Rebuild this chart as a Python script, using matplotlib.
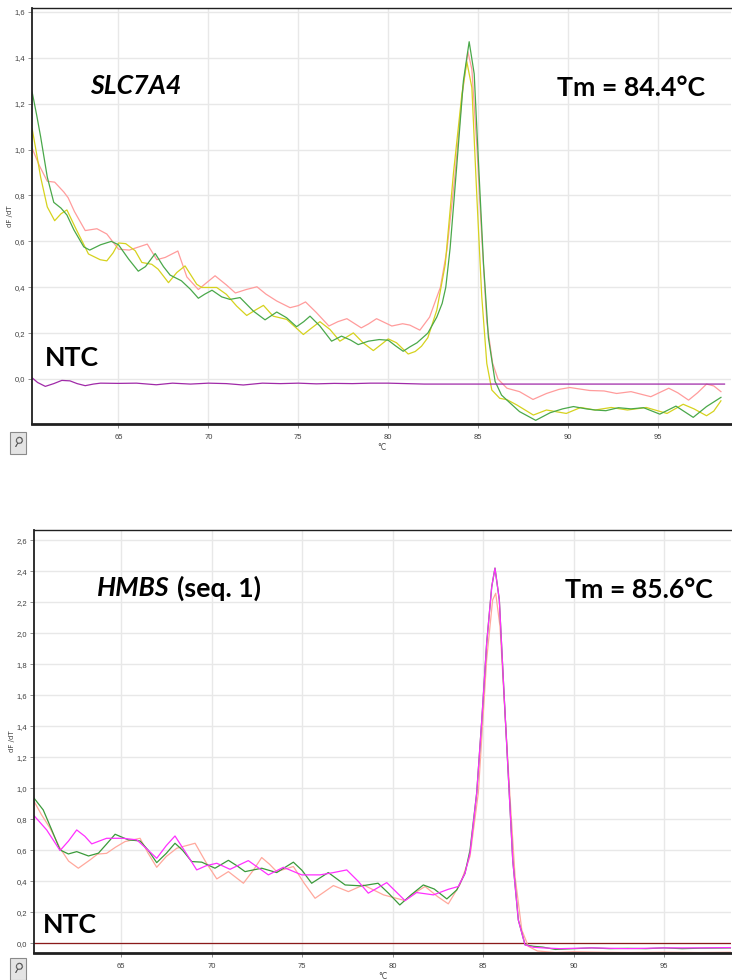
import matplotlib
matplotlib.use("Agg")
import matplotlib.pyplot as plt
from matplotlib.ticker import FuncFormatter
from matplotlib.patches import Rectangle

# SLC7A4 melt curves (temperature, -dF/dT)
slc_pink_t = [60.2, 60.6, 61.04, 61.45, 61.96, 62.2, 62.55, 63.15, 63.8, 64.35, 65.0, 65.6, 66.1, 66.6,
              67.13, 67.6, 68.3, 68.8, 69.44, 69.9, 70.37, 71.0, 71.5, 72.1, 72.7, 73.2, 73.8, 74.54,
              75.0, 75.4, 76.0, 76.7, 77.2, 77.7, 78.5, 78.9, 79.35, 80.2, 80.8, 81.2, 81.76, 82.3,
              82.9, 83.26, 83.7, 84.1, 84.43, 84.65, 84.93, 85.2, 85.48, 85.8, 86.1, 86.6, 87.3, 88.05,
              88.8, 89.5, 90.1, 91.2, 92.0, 92.7, 93.5, 94.6, 95.6, 96.1, 96.7, 97.2, 97.7, 98.1, 98.5]
slc_pink_v = [1.005, 0.93, 0.862, 0.858, 0.815, 0.79, 0.73, 0.647, 0.655, 0.632, 0.566, 0.562, 0.575, 0.588,
              0.52, 0.53, 0.558, 0.445, 0.39, 0.42, 0.45, 0.41, 0.375, 0.39, 0.402, 0.37, 0.34, 0.311,
              0.32, 0.336, 0.29, 0.231, 0.25, 0.263, 0.223, 0.24, 0.263, 0.231, 0.241, 0.235, 0.213, 0.27,
              0.40, 0.56, 0.88, 1.23, 1.426, 1.35, 1.01, 0.62, 0.25, 0.07, 0.0, -0.04, -0.055, -0.089,
              -0.063, -0.045, -0.037, -0.05, -0.052, -0.063, -0.055, -0.077, -0.04, -0.06, -0.092, -0.06, -0.022, -0.03, -0.055]

slc_green_t = [60.2, 60.45, 60.67, 61.04, 61.4, 61.8, 62.13, 62.52, 63.07, 63.4, 64.0, 64.6, 65.0, 65.56,
               66.1, 66.5, 67.04, 67.5, 67.87, 68.5, 69.0, 69.44, 69.8, 70.2, 70.74, 71.2, 71.76, 72.5,
               73.15, 73.8, 74.35, 74.9, 75.3, 75.65, 76.2, 76.85, 77.4, 77.9, 78.33, 78.9, 79.5, 80.0,
               80.4, 80.83, 81.2, 81.6, 82.2, 82.7, 83.0, 83.2, 83.44, 83.8, 84.18, 84.5, 84.78, 85.02,
               85.3, 85.57, 85.94, 86.3, 86.6, 87.3, 88.2, 89.0, 89.7, 90.3, 91.0, 91.5, 92.1, 92.8,
               93.5, 94.2, 95.1, 96.0, 96.96, 97.7, 98.5]
slc_green_v = [1.25, 1.15, 1.056, 0.88, 0.77, 0.745, 0.715, 0.65, 0.576, 0.562, 0.585, 0.6, 0.585, 0.523,
               0.47, 0.49, 0.547, 0.49, 0.453, 0.428, 0.391, 0.352, 0.37, 0.387, 0.358, 0.347, 0.355, 0.296,
               0.258, 0.292, 0.267, 0.228, 0.25, 0.274, 0.231, 0.165, 0.187, 0.17, 0.15, 0.165, 0.172, 0.169,
               0.145, 0.121, 0.14, 0.158, 0.2, 0.27, 0.33, 0.40, 0.57, 0.92, 1.30, 1.47, 1.33, 0.94,
               0.50, 0.18, -0.01, -0.07, -0.092, -0.142, -0.18, -0.147, -0.13, -0.12, -0.13, -0.135, -0.138, -0.125,
               -0.13, -0.125, -0.153, -0.118, -0.167, -0.12, -0.08]

slc_yellow_t = [60.2, 60.45, 60.67, 61.04, 61.45, 61.8, 62.13, 62.6, 63.33, 63.98, 64.35, 64.7, 65.0, 65.4,
                65.93, 66.3, 66.85, 67.2, 67.78, 68.24, 68.7, 69.35, 69.63, 70.46, 71.0, 71.57, 72.13, 72.6,
                73.06, 73.6, 74.35, 74.72, 75.28, 75.7, 76.2, 76.76, 77.31, 78.06, 78.6, 79.17, 79.6, 80.0,
                80.46, 81.11, 81.5, 81.85, 82.2, 82.7, 83.17, 83.63, 84.1, 84.37, 84.65, 84.93, 85.2, 85.48,
                85.76, 86.2, 86.6, 87.15, 88.07, 88.8, 89.9, 90.7, 91.5, 92.4, 93.3, 94.35, 95.5, 96.4,
                97.0, 97.7, 98.1, 98.5]
slc_yellow_v = [1.09, 0.98, 0.88, 0.75, 0.69, 0.72, 0.737, 0.66, 0.545, 0.52, 0.515, 0.55, 0.593, 0.59,
                0.559, 0.508, 0.50, 0.479, 0.42, 0.464, 0.493, 0.413, 0.399, 0.399, 0.369, 0.318, 0.277, 0.30,
                0.321, 0.274, 0.26, 0.234, 0.194, 0.22, 0.25, 0.216, 0.165, 0.201, 0.158, 0.124, 0.15, 0.175,
                0.158, 0.109, 0.12, 0.143, 0.18, 0.30, 0.50, 0.90, 1.245, 1.383, 1.27, 0.79, 0.36, 0.068,
                -0.048, -0.084, -0.09, -0.113, -0.157, -0.135, -0.15, -0.124, -0.135, -0.124, -0.135, -0.124, -0.15, -0.11,
                -0.13, -0.16, -0.14, -0.095]

slc_ntc_t = [60.2, 60.5, 60.93, 61.4, 61.85, 62.3, 62.7, 63.15, 63.6, 64.0, 65.0, 66.0, 67.1, 68.0,
             69.0, 70.0, 71.0, 71.94, 73.0, 74.0, 75.0, 76.0, 77.0, 78.0, 79.0, 80.0, 81.0, 82.0, 98.7]
slc_ntc_v = [0.005, -0.015, -0.032, -0.02, -0.006, -0.008, -0.02, -0.029, -0.022, -0.018, -0.019, -0.018, -0.025, -0.018,
             -0.022, -0.018, -0.02, -0.026, -0.018, -0.02, -0.018, -0.021, -0.019, -0.02, -0.018, -0.018, -0.02, -0.022, -0.022]

# HMBS (seq. 1) melt curves
hmbs_green_t = [60.2, 60.7, 61.17, 61.63, 62.09, 62.55, 63.2, 63.75, 64.2, 64.67, 65.4, 66.05, 66.5, 66.97,
                67.5, 67.98, 68.4, 68.9, 69.46, 70.19, 70.93, 71.4, 71.85, 72.77, 73.6, 74.52, 75.0, 75.53,
                76.45, 77.38, 78.3, 79.2, 79.8, 80.4, 81.0, 81.7, 82.3, 83.0, 83.55, 84.0, 84.28, 84.65,
                84.93, 85.2, 85.48, 85.66, 85.9, 86.16, 86.4, 86.64, 86.95, 87.32, 87.8, 88.3, 89.0, 90.0,
                91.0, 92.0, 93.0, 94.0, 95.0, 96.0, 97.0, 98.7]
hmbs_green_v = [0.935, 0.86, 0.731, 0.602, 0.576, 0.591, 0.563, 0.581, 0.64, 0.703, 0.667, 0.66, 0.6, 0.52,
                0.58, 0.645, 0.6, 0.527, 0.523, 0.484, 0.535, 0.5, 0.462, 0.484, 0.456, 0.523, 0.47, 0.387,
                0.456, 0.376, 0.37, 0.387, 0.32, 0.247, 0.31, 0.376, 0.35, 0.286, 0.344, 0.45, 0.60, 0.97,
                1.44, 1.935, 2.30, 2.42, 2.215, 1.61, 1.075, 0.537, 0.15, -0.01, -0.02, -0.025, -0.04, -0.035,
                -0.03, -0.035, -0.033, -0.035, -0.03, -0.035, -0.032, -0.03]

hmbs_pink_t = [60.2, 60.6, 61.08, 61.63, 62.1, 62.64, 63.29, 63.7, 64.2, 64.7, 65.22, 66.05, 66.5, 66.97,
               67.5, 68.08, 69.09, 69.7, 70.29, 70.93, 71.76, 72.3, 72.77, 73.2, 73.6, 74.52, 75.1, 75.72,
               76.73, 77.56, 78.39, 79.5, 80.69, 81.3, 81.8, 82.5, 83.08, 83.73, 84.28, 84.74, 85.2, 85.53,
               85.7, 85.94, 86.2, 86.5, 86.77, 87.14, 87.5, 88.0, 89.0, 90.0, 91.5, 93.0, 95.0, 97.0, 98.7]
hmbs_pink_v = [0.914, 0.83, 0.742, 0.613, 0.53, 0.484, 0.538, 0.575, 0.58, 0.62, 0.656, 0.677, 0.58, 0.49,
               0.56, 0.613, 0.645, 0.52, 0.415, 0.462, 0.387, 0.47, 0.553, 0.51, 0.462, 0.495, 0.39, 0.29,
               0.372, 0.333, 0.376, 0.312, 0.275, 0.33, 0.366, 0.3, 0.254, 0.38, 0.56, 0.97, 1.83, 2.215,
               2.258, 2.04, 1.505, 0.925, 0.43, 0.086, -0.02, -0.05, -0.06, -0.055, -0.058, -0.06, -0.058, -0.06, -0.058]

hmbs_magenta_t = [60.2, 60.89, 61.63, 62.1, 62.55, 63.0, 63.38, 64.2, 65.13, 65.87, 66.5, 66.97, 67.5, 67.98,
                  68.6, 69.18, 69.7, 70.29, 71.02, 72.03, 73.14, 73.97, 74.98, 75.99, 76.7, 77.47, 78.1, 78.66,
                  79.68, 80.69, 81.33, 82.26, 83.08, 83.63, 84.0, 84.28, 84.65, 84.93, 85.2, 85.48, 85.66, 85.9,
                  86.16, 86.4, 86.64, 86.95, 87.32, 87.78, 88.3, 89.25, 91.0, 93.0, 95.0, 97.0, 98.7]
hmbs_magenta_v = [0.822, 0.731, 0.598, 0.66, 0.731, 0.69, 0.641, 0.677, 0.677, 0.667, 0.6, 0.548, 0.63, 0.692,
                  0.58, 0.473, 0.5, 0.516, 0.477, 0.533, 0.441, 0.49, 0.441, 0.441, 0.455, 0.473, 0.4, 0.323,
                  0.391, 0.275, 0.327, 0.312, 0.348, 0.366, 0.45, 0.58, 0.968, 1.44, 1.935, 2.30, 2.42, 2.215,
                  1.61, 1.075, 0.537, 0.15, -0.011, -0.026, -0.03, -0.035, -0.03, -0.035, -0.03, -0.03, -0.028]

hmbs_ntc_t = [60.2, 98.7]
hmbs_ntc_v = [0.0, 0.0]

temp_ticks = [65, 70, 75, 80, 85, 90, 95]

W, H = 732, 980
fig = plt.figure(figsize=(W / 100, H / 100), dpi=100)


def px_axes(left, top, right, bottom):
    return fig.add_axes([left / W, 1 - bottom / H, (right - left) / W, (bottom - top) / H])


def style_axes(ax, xlim, ylim, ymax_tick):
    ax.set_xlim(*xlim)
    ax.set_ylim(*ylim)
    ax.set_xticks(temp_ticks)
    ax.set_yticks([i * 0.2 for i in range(int(round(ymax_tick / 0.2)) + 1)])
    ax.yaxis.set_major_formatter(FuncFormatter(lambda v, p: f"{v:.1f}".replace(".", ",")))
    ax.grid(True, color="#e8e8e8", lw=1.0)
    ax.set_axisbelow(True)
    ax.tick_params(labelsize=5.5, labelcolor="#404040", color="#808080", length=3, width=0.6)
    ax.tick_params(axis="x", pad=4.5)
    ax.tick_params(axis="y", pad=2)
    for lab in ax.get_xticklabels() + ax.get_yticklabels():
        lab.set_family("Liberation Sans")
    ax.spines["right"].set_visible(False)
    ax.spines["left"].set_linewidth(1.3)
    ax.spines["top"].set_linewidth(1.0)
    ax.spines["bottom"].set_linewidth(2.0)
    for s in ("left", "top", "bottom"):
        ax.spines[s].set_color("#202020")
    ax.set_ylabel("dF /dT", fontsize=5, color="#404040")
    ax.yaxis.set_label_coords(-0.027, 0.5)
    ax.set_xlabel("°C", fontsize=5.5, color="#404040", labelpad=1)


# top panel: SLC7A4
ax1 = px_axes(32, 8, 731, 424)
ax1.plot(slc_pink_t, slc_pink_v, color="#ff9c9c", lw=0.9)
ax1.plot(slc_yellow_t, slc_yellow_v, color="#d6d21e", lw=0.9)
ax1.plot(slc_green_t, slc_green_v, color="#4aa84a", lw=0.9)
ax1.plot(slc_ntc_t, slc_ntc_v, color="#a02aa8", lw=0.9)
style_axes(ax1, (60.19, 99.06), (-0.196, 1.617), 1.6)

# bottom panel: HMBS
ax2 = px_axes(34, 530, 731, 953)
ax2.plot(hmbs_ntc_t, hmbs_ntc_v, color="#8b1a1a", lw=0.9)
ax2.plot(hmbs_pink_t, hmbs_pink_v, color="#ffa89c", lw=0.9)
ax2.plot(hmbs_green_t, hmbs_green_v, color="#3a9a3a", lw=0.9)
ax2.plot(hmbs_magenta_t, hmbs_magenta_v, color="#ff30ff", lw=0.9)
style_axes(ax2, (60.19, 98.7), (-0.063, 2.666), 2.6)

# slide annotations
fs = 19.2
lbl = dict(family="Lato", fontweight="bold", fontsize=fs, color="black", va="center")


def put(x, y, s, **kw):
    return fig.text(x / W, 1 - y / H, s, **{**lbl, **kw})


put(90, 86, "SLC7A4", style="italic")
put(557, 88, "Tm = 84.4°C")
put(45, 358, "NTC")

gene = put(97, 588, "HMBS", style="italic")
fig.canvas.draw()
bb = gene.get_window_extent()
put(bb.x1 + 7, 588, "(seq. 1)")
put(565, 590, "Tm = 85.6°C")
put(43, 925, "NTC")

# small zoom buttons under each chart
for ytop in (432, 958):
    fig.patches.append(Rectangle((10 / W, 1 - (ytop + 22) / H), 16 / W, 22 / H,
                                 transform=fig.transFigure, facecolor="#e4e4e4",
                                 edgecolor="#8a8a8a", lw=0.8))
    fig.text(18 / W, 1 - (ytop + 11) / H, "⚲", fontsize=9, color="#505050",
             ha="center", va="center", family="DejaVu Sans", rotation=-30)

fig.savefig("out.png", dpi=100)
